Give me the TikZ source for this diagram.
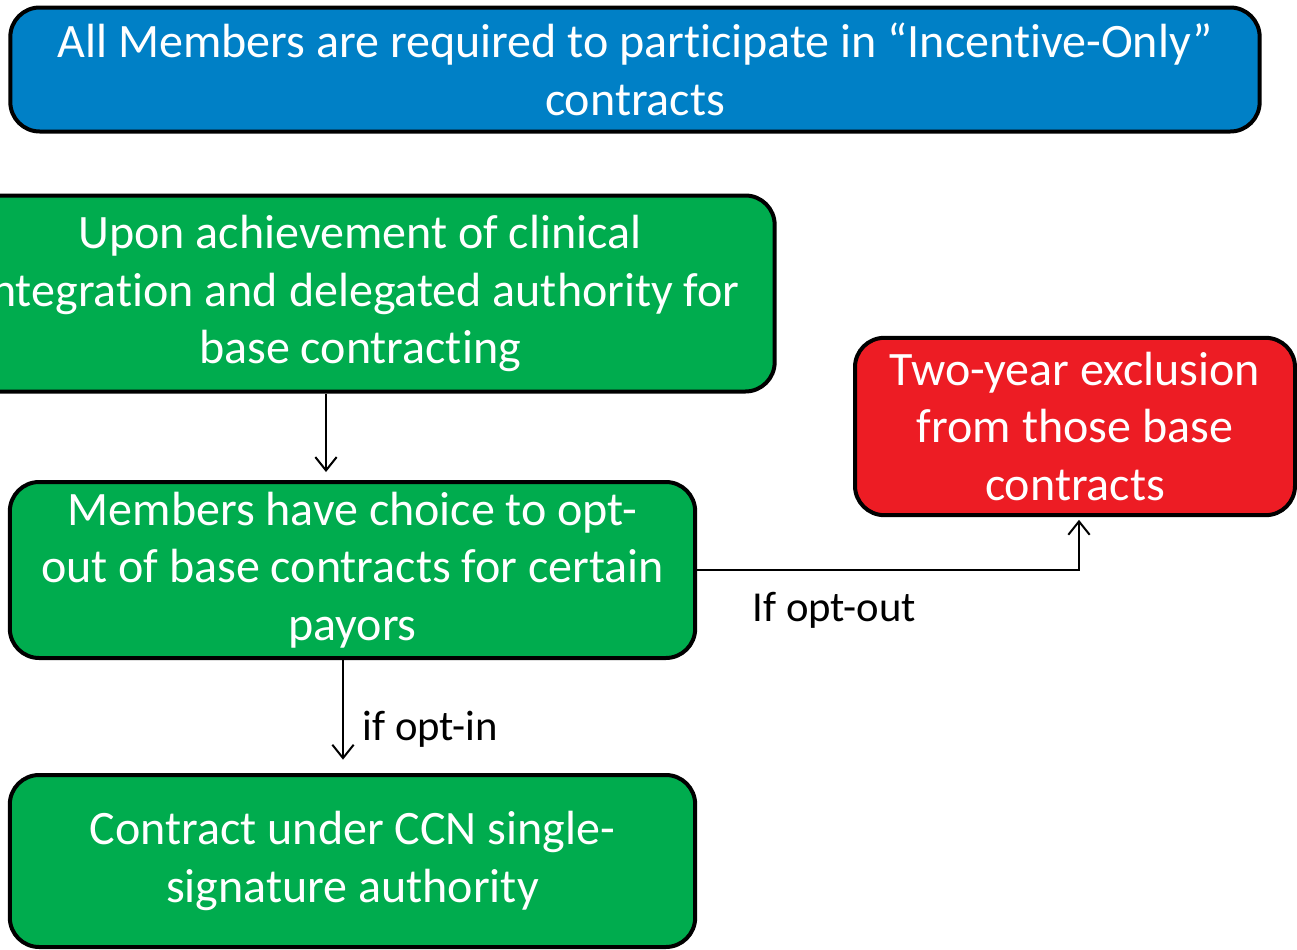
\documentclass[tikz,border=0pt]{standalone}
\usepackage{fontspec}
\setmainfont{Carlito}[Ligatures=NoCommon]
\usetikzlibrary{calc}
\usetikzlibrary{arrows.meta}
\definecolor{boxblue}{RGB}{0,128,198}
\definecolor{boxgreen}{RGB}{0,172,78}
\definecolor{boxred}{RGB}{237,28,36}
\begin{document}
\begin{tikzpicture}[x=0.75pt, y=-0.75pt,
    box/.style={rectangle, rounded corners=22pt, draw=black, line width=3pt, text=white, align=center, font=\fontsize{36}{43}\selectfont},
    arr/.style={line width=1.5pt, -{Straight Barb[length=10pt, width=16pt, line width=1.5pt]}},
    lbl/.style={font=\fontsize{32}{38}\selectfont, anchor=west}]
    \useasboundingbox (0, 0) rectangle (1297, 950);
    \node[box, fill=boxblue, minimum width=937pt, minimum height=93pt] (allm) at (635, 69.5)
        {All Members are required to participate in ``Incentive-Only''\\contracts};
    \node[box, fill=boxgreen, minimum width=622pt, minimum height=147pt] (upon) at (360, 293.5)
        {Upon achievement of clinical\\integration and delegated authority for\\base contracting};
    \node[box, fill=boxgreen, minimum width=514pt, minimum height=132pt] (choice) at (352.5, 570)
        {Members have choice to opt-\\out of base contracts for certain\\payors};
    \node[box, fill=boxgreen, minimum width=514pt, minimum height=129pt] (ccn) at (352.5, 861)
        {Contract under CCN single-\\signature authority};
    \node[box, fill=boxred, minimum width=330pt, minimum height=133pt] (excl) at (1075, 426.5)
        {Two-year exclusion\\from those base\\contracts};
    \coordinate (a1) at ($(upon.south) + (-34, 0)$);
    \coordinate (a2) at ($(choice.south) + (-9.5, 0)$);
    \draw[arr, shorten >=6pt] (a1) -- (a1 |- choice.north);
    \draw[arr, shorten >=10pt] (a2) -- (a2 |- ccn.north);
    \draw[arr, shorten >=2pt] (choice.east) -| ($(excl.south) + (4, 0)$);
    \node[lbl] (optout) at (748, 610) {If opt-out};
    \node[lbl] (optin) at (358, 729) {if opt-in};
\end{tikzpicture}
\end{document}
